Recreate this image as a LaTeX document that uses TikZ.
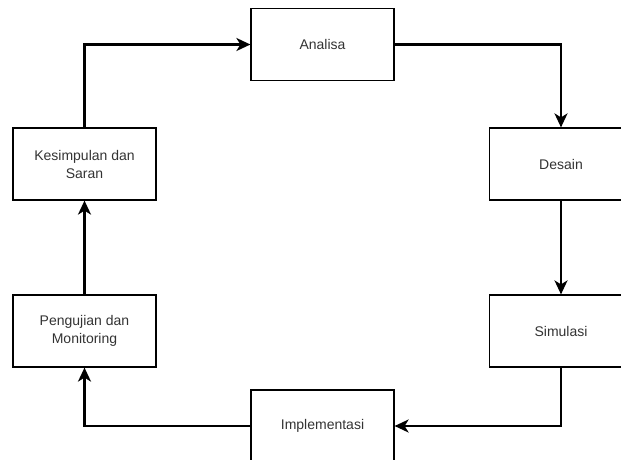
\documentclass[tikz,border=0pt]{standalone}
\usepackage{fontspec}
\setmainfont{Liberation Sans}
\usetikzlibrary{arrows.meta}
\definecolor{labelgray}{HTML}{333333}

\begin{document}
\begin{tikzpicture}[x=1pt, y=-1pt,
    stage/.style={draw, line width=1.2pt, minimum width=143pt, minimum height=72pt,
      align=center, text=labelgray, font=\fontsize{14}{18}\selectfont, inner sep=0pt},
    flow/.style={line width=2.2pt, -{Stealth[length=14pt, width=13pt, inset=4pt]}}]
    % Canvas
    \useasboundingbox (0,0) rectangle (621,459);
    \clip (0,0) rectangle (621,459);

    % Stages
    \node[stage] (analisa) at (322.5,44.5) {Analisa};
    \node[stage] (desain) at (561,164) {Desain};
    \node[stage] (simulasi) at (561,331) {Simulasi};
    \node[stage] (implementasi) at (322.5,426) {Implementasi};
    \node[stage] (pengujian) at (84.5,331) {Pengujian dan\\Monitoring};
    \node[stage] (kesimpulan) at (84.5,164) {Kesimpulan dan\\Saran};

    % Cycle
    \draw[flow] (analisa.east) -| (desain.north);
    \draw[flow] (desain.south) -- (simulasi.north);
    \draw[flow] (simulasi.south) |- (implementasi.east);
    \draw[flow] (implementasi.west) -| (pengujian.south);
    \draw[flow] (pengujian.north) -- (kesimpulan.south);
    \draw[flow] (kesimpulan.north) |- (analisa.west);
\end{tikzpicture}
\end{document}
